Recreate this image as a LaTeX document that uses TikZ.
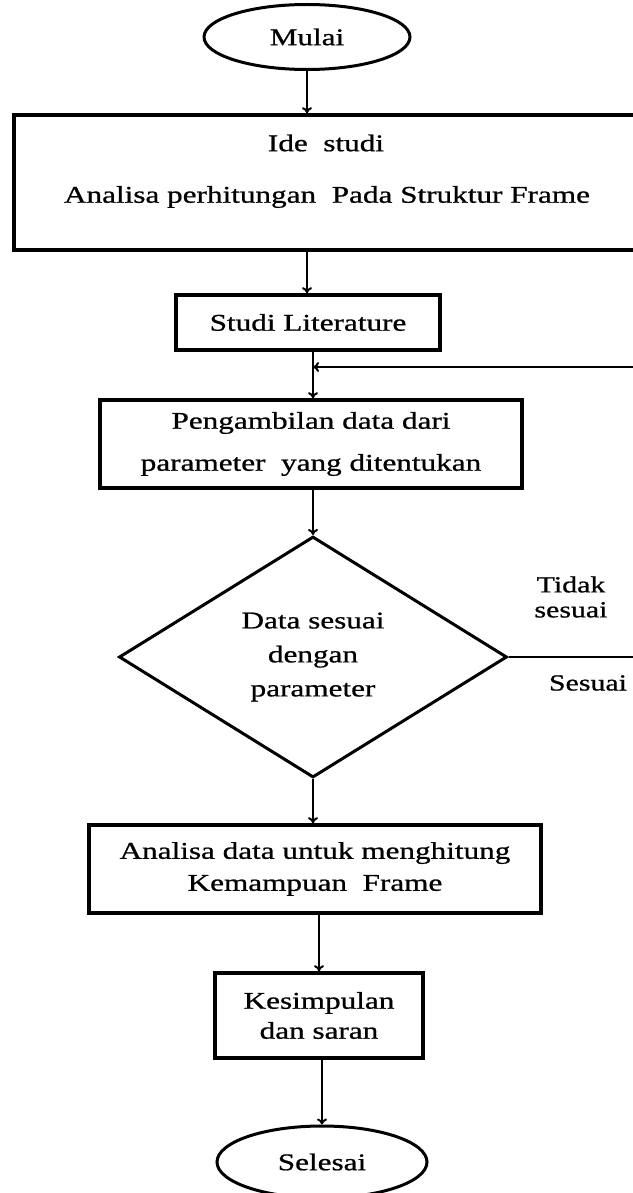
\documentclass[tikz,border=0pt]{standalone}
\usepackage{fontspec}
\setmainfont{Liberation Serif}[FakeStretch=1.3,FakeBold=0.8]
\usetikzlibrary{shapes.geometric,arrows.meta}
\begin{document}
\begin{tikzpicture}[x=1pt,y=-1pt,
  every node/.style={font=\fontsize{24}{34}\selectfont, inner sep=0pt},
  box/.style={draw, rectangle, line width=3.6pt, align=center},
  term/.style={draw, ellipse, line width=3pt, align=center},
  decide/.style={draw, diamond, aspect=1.6, line width=3pt, align=center},
  arr/.style={line width=2pt, -{To[length=6pt,width=10pt]}},
  ln/.style={line width=2pt},
  lbl/.style={align=center}]
\useasboundingbox (0,0) rectangle (632,1193);
\fill[white] (0,0) rectangle (632,1193);

\node[term, minimum width=206pt, minimum height=65pt] (mulai) at (307,37) {Mulai};

\node[box, minimum width=636pt, minimum height=135pt] (ide) at (332,182.5) {};
\node (idea) at (326,143) {Ide\ \ studi};
\node (ideb) at (327,197) {Analisa perhitungan\ \ Pada Struktur Frame};

\node[box, minimum width=264pt, minimum height=55pt] (studi) at (308,322.5) {Studi Literature};

\node[box, minimum width=422pt, minimum height=88pt, font=\fontsize{24}{42}\selectfont] (ambil) at (311,444) {Pengambilan data dari\\parameter\ \ yang ditentukan};

\node[decide, minimum width=388pt, minimum height=241pt] (dia) at (313,657) {Data sesuai\\dengan\\parameter};

\node[box, minimum width=452pt, minimum height=88pt, font=\fontsize{24}{32}\selectfont] (anal) at (315,869) {Analisa data untuk menghitung\\Kemampuan\ \ Frame};

\node[box, minimum width=208pt, minimum height=85pt, font=\fontsize{24}{30}\selectfont] (kes) at (319,1015.5) {Kesimpulan\\dan saran};

\node[term, minimum width=210pt, minimum height=72pt] (sel) at (322,1162) {Selesai};

\node[lbl, font=\fontsize{23}{25}\selectfont] (tidak) at (571,597) {Tidak\\sesuai};
\node[font=\fontsize{23}{25}\selectfont] (sesuai) at (588,683) {Sesuai};

\coordinate (rt) at (650,0);
\coordinate (jn) at (313,367);

\draw[arr] (mulai.south) -- (mulai.south |- ide.north);
\draw[arr] (ide.south -| mulai.south) -- (studi.north -| mulai.south);
\draw[arr] (studi.south -| jn) -- (ambil.north -| jn);
\draw[ln] (dia.east) -- (dia.east -| rt) |- (jn);
\draw[arr] (rt |- jn) -- (jn);
\draw[arr] (ambil.south -| dia.north) -- (dia.north);
\draw[arr] (dia.south) -- (dia.south |- anal.north);
\draw[arr] (anal.south -| kes.north) -- (kes.north);
\draw[arr] (kes.south -| sel.north) -- (sel.north);
\end{tikzpicture}
\end{document}
